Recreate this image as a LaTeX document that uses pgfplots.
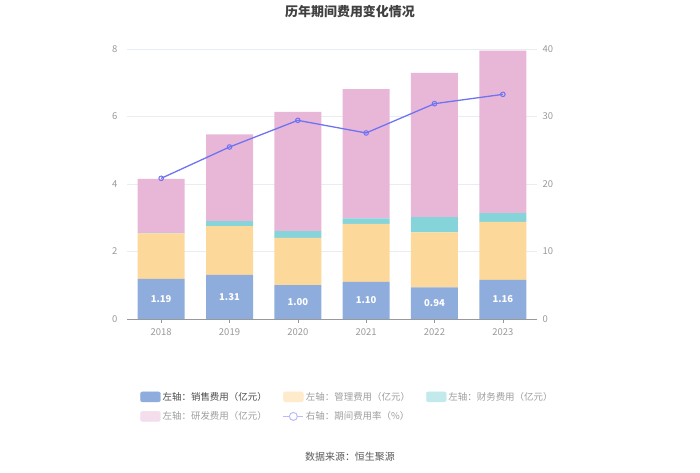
\documentclass[border=0pt]{standalone}
\usepackage{pgfplots}
\pgfplotsset{compat=1.18}
\usepackage{fontspec}
\setmainfont{Noto Sans CJK SC}
\definecolor{csale}{HTML}{8EADDC}
\definecolor{cadmin}{HTML}{FDD89B}
\definecolor{cfin}{HTML}{85D4D9}
\definecolor{crd}{HTML}{E8B7D8}
\definecolor{cline}{HTML}{6E73F2}
\definecolor{cgrid}{HTML}{E8ECF3}
\definecolor{ctick}{HTML}{999999}
\definecolor{fadmin}{HTML}{FEEBCB}
\definecolor{ffin}{HTML}{C2EAEC}
\definecolor{frd}{HTML}{F4DDEC}
\definecolor{fline}{HTML}{B9BBF8}
\begin{document}
\begin{tikzpicture}[x=1bp,y=1bp]
\path[use as bounding box] (0bp,0bp) rectangle (700bp,473bp);
\node[font=\bfseries\fontsize{13}{15}\selectfont, text=black!75] at (350bp,461bp) {历年期间费用变化情况};
\node[font=\fontsize{10}{12}\selectfont, text=black!65] at (350bp,16bp) {数据来源：恒生聚源};
\begin{axis}[
  at={(127bp,154bp)}, anchor=south west,
  scale only axis, width=410bp, height=270bp,
  ybar stacked, bar width=47bp,
  xmin=-0.5, xmax=5.5, ymin=0, ymax=8,
  xtick={0,1,2,3,4,5},
  xticklabels={2018,2019,2020,2021,2022,2023},
  ytick={0,2,4,6,8},
  axis y line*=left, axis x line*=bottom,
  y axis line style={draw=none},
  x axis line style={draw=ctick, line width=0.8pt},
  ymajorgrids, grid style={cgrid, line width=0.6pt},
  major tick length=4bp,
  xtick style={draw=ctick},
  ytick style={draw=none},
  tick align=outside,
  tick label style={font=\fontsize{9.5}{11}\selectfont, text=ctick},
  /pgf/number format/assume math mode=true,
  xticklabel style={yshift=-2bp},
  yticklabel style={xshift=-2bp},
  clip=false,
]
\addplot[fill=csale, draw=none] coordinates {(0,1.19) (1,1.31) (2,1.00) (3,1.10) (4,0.94) (5,1.16)};
\addplot[fill=cadmin, draw=none] coordinates {(0,1.35) (1,1.44) (2,1.40) (3,1.715) (4,1.63) (5,1.72)};
\addplot[fill=cfin, draw=none] coordinates {(0,0.01) (1,0.148) (2,0.20) (3,0.168) (4,0.45) (5,0.26)};
\addplot[fill=crd, draw=none] coordinates {(0,1.60) (1,2.57) (2,3.54) (3,3.83) (4,4.27) (5,4.81)};
\end{axis}
% labels of the sales segments, set at the middle of each segment
\begin{axis}[
  at={(127bp,154bp)}, anchor=south west,
  scale only axis, width=410bp, height=270bp,
  xmin=-0.5, xmax=5.5, ymin=0, ymax=8, hide axis, clip=false,
]
\addplot[draw=none, mark=none, nodes near coords, point meta=explicit symbolic,
  every node near coord/.append style={font=\bfseries\fontsize{9.5}{11}\selectfont, text=white, anchor=center}]
  coordinates {(0,0.595)[1.19] (1,0.655)[1.31] (2,0.50)[1.00] (3,0.55)[1.10] (4,0.47)[0.94] (5,0.58)[1.16]};
\end{axis}
\begin{axis}[
  at={(127bp,154bp)}, anchor=south west,
  scale only axis, width=410bp, height=270bp,
  xmin=-0.5, xmax=5.5, ymin=0, ymax=40,
  axis x line=none,
  axis y line*=right,
  y axis line style={draw=none},
  ytick={0,10,20,30,40},
  ytick style={draw=none},
  tick label style={font=\fontsize{9.5}{11}\selectfont, text=ctick},
  /pgf/number format/assume math mode=true,
  yticklabel style={xshift=2bp},
  clip=false,
]
\addplot[cline, line width=1.3pt, mark=o, mark size=2.3bp, mark options={fill=white, line width=1pt}]
  coordinates {(0,20.84) (1,25.48) (2,29.43) (3,27.56) (4,31.9) (5,33.28)};
\end{axis}
\begin{axis}[
  at={(127bp,154bp)}, anchor=south west,
  scale only axis, width=410bp, height=270bp,
  xmin=0, xmax=1, ymin=0, ymax=1, hide axis,
  legend columns=3,
  legend cell align=left,
  legend style={draw=none, fill=none, at={(axis description cs:0.027,-0.255)}, anchor=north west,
    font=\fontsize{9.5}{11}\selectfont, text=black!38, inner sep=2bp,
    /tikz/every even column/.append style={column sep=14bp},
    row sep=6bp},
]
\addlegendimage{legend image code/.code={\fill[csale, rounded corners=2bp] (0bp,-5bp) rectangle (20bp,5bp);}}
\addlegendentry{\textcolor{black!70}{左轴：销售费用（亿元）}}
\addlegendimage{legend image code/.code={\fill[fadmin, rounded corners=2bp] (0bp,-5bp) rectangle (20bp,5bp);}}
\addlegendentry{左轴：管理费用（亿元）}
\addlegendimage{legend image code/.code={\fill[ffin, rounded corners=2bp] (0bp,-5bp) rectangle (20bp,5bp);}}
\addlegendentry{左轴：财务费用（亿元）}
\addlegendimage{legend image code/.code={\fill[frd, rounded corners=2bp] (0bp,-5bp) rectangle (20bp,5bp);}}
\addlegendentry{左轴：研发费用（亿元）}
\addlegendimage{legend image code/.code={\draw[fline, line width=1.2pt] (0bp,0bp) -- (20bp,0bp); \draw[fline, fill=white, line width=1pt] (10bp,0bp) circle (4bp);}}
\addlegendentry{右轴：期间费用率（\%）}
\end{axis}
\end{tikzpicture}
\end{document}
